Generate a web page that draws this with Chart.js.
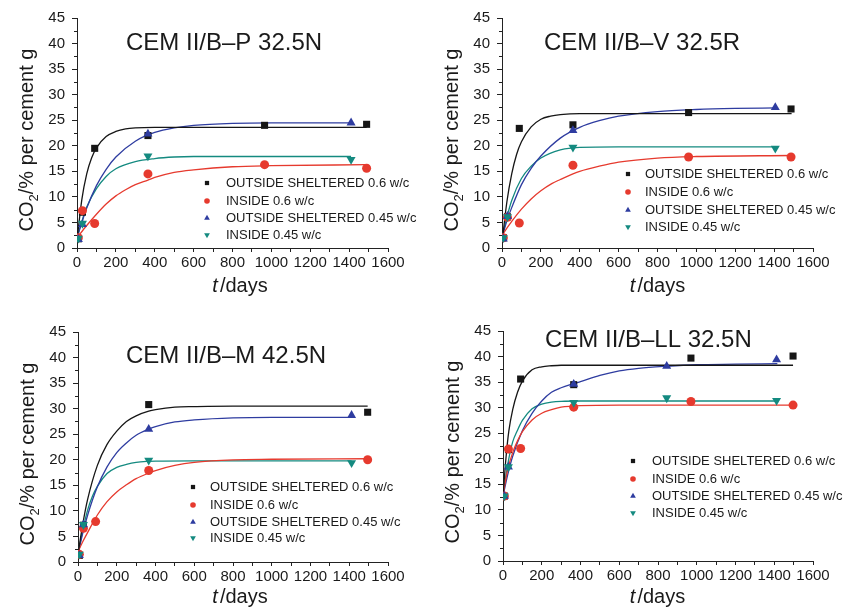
<!DOCTYPE html>
<html><head><meta charset="utf-8">
<script src="https://cdn.jsdelivr.net/npm/chart.js@4.4.1/dist/chart.umd.min.js"></script>
<style>
html,body{margin:0;padding:0;background:#fff;}
#wrap{position:relative;width:856px;height:611px;overflow:hidden;background:#fff;}
canvas{position:absolute;}
</style></head><body>
<div id="wrap">
<canvas id="c1" width="428" height="305" style="left:0px;top:0px;width:428px;height:305px"></canvas>
<canvas id="c2" width="428" height="305" style="left:428px;top:0px;width:428px;height:305px"></canvas>
<canvas id="c3" width="428" height="306" style="left:0px;top:305px;width:428px;height:306px"></canvas>
<canvas id="c4" width="428" height="306" style="left:428px;top:305px;width:428px;height:306px"></canvas>
</div>
<script>
// ---------- text ----------
const panelTitles = ['CEM II/B\u2013P 32.5N', 'CEM II/B\u2013V 32.5R', 'CEM II/B\u2013M 42.5N', 'CEM II/B\u2013LL 32.5N'];
const seriesLabels = ['OUTSIDE SHELTERED 0.6 w/c', 'INSIDE 0.6 w/c', 'OUTSIDE SHELTERED 0.45 w/c', 'INSIDE 0.45 w/c'];
const xTickLabels = [0, 200, 400, 600, 800, 1000, 1200, 1400, 1600];
const yTickLabels = [0, 5, 10, 15, 20, 25, 30, 35, 40, 45];

// ---------- measured points [days, CO2 %] ----------
// CEM II/B-P 32.5N
const pP_os06  = [[7,1.8],[28,7.0],[91,19.5],[365,22.0],[965,24.0],[1490,24.2]];
const pP_in06  = [[7,2.0],[28,7.3],[91,4.8],[365,14.5],[965,16.3],[1490,15.6]];
const pP_os045 = [[7,1.7],[28,4.6],[365,22.3],[1410,24.5]];
const pP_in045 = [[7,1.9],[28,4.8],[365,18.0],[1410,17.3]];
// CEM II/B-V 32.5R
const pV_os06  = [[7,2.0],[28,6.1],[89,23.4],[365,24.1],[960,26.5],[1487,27.2]];
const pV_in06  = [[7,2.0],[28,6.0],[89,4.9],[365,16.2],[960,17.8],[1487,17.8]];
const pV_os045 = [[7,1.8],[28,6.2],[365,23.0],[1406,27.5]];
const pV_in045 = [[7,2.0],[28,6.1],[365,19.7],[1406,19.5]];
// CEM II/B-M 42.5N
const pM_os06  = [[7,1.3],[28,7.2],[365,30.8],[1495,29.3]];
const pM_in06  = [[7,1.5],[28,6.6],[91,7.9],[365,17.9],[1495,20.0]];
const pM_os045 = [[7,1.3],[28,7.3],[365,26.0],[1412,28.7]];
const pM_in045 = [[7,1.5],[28,7.3],[365,19.9],[1412,19.4]];
// CEM II/B-LL 32.5N
const pL_os06  = [[7,12.7],[28,21.8],[91,35.6],[365,34.5],[970,39.7],[1497,40.1]];
const pL_in06  = [[7,12.7],[28,21.9],[91,22.0],[365,30.1],[970,31.2],[1497,30.5]];
const pL_os045 = [[7,12.7],[28,18.4],[365,34.6],[845,38.1],[1412,39.4]];
const pL_in045 = [[7,12.7],[28,18.4],[365,31.0],[845,31.9],[1412,31.4]];

// ---------- fitted curves [days, CO2 %] ----------
const fP_os06  = [[0,1.5],[25,9.5],[50,14.5],[75,17.6],[100,19.6],[150,21.8],[200,22.8],[250,23.3],[300,23.5],[400,23.6],[1490,23.6]];
const fP_in06  = [[0,2.0],[50,4.4],[100,6.6],[150,8.6],[200,10.2],[250,11.4],[300,12.4],[365,13.3],[400,13.8],[500,14.8],[600,15.3],[800,15.9],[1000,16.1],[1490,16.3]];
const fP_os045 = [[0,2.0],[25,5.0],[50,7.8],[100,12.2],[150,15.4],[200,17.8],[300,20.9],[400,22.6],[500,23.5],[600,24.0],[800,24.4],[1000,24.5],[1410,24.5]];
const fP_in045 = [[0,2.0],[25,5.2],[50,8.0],[100,11.6],[150,14.0],[200,15.5],[300,16.9],[400,17.5],[500,17.8],[600,17.9],[1410,17.9]];

const fV_os06  = [[0,1.0],[25,9.0],[50,14.5],[75,18.3],[100,20.8],[150,23.7],[200,25.2],[250,25.8],[300,26.1],[400,26.3],[1490,26.3]];
const fV_in06  = [[0,2.5],[50,5.2],[100,7.6],[150,9.6],[200,11.2],[256,12.6],[300,13.4],[365,14.5],[400,15.0],[500,16.0],[600,16.8],[800,17.6],[1000,17.9],[1490,18.1]];
const fV_os045 = [[0,2.0],[25,5.3],[50,7.9],[100,12.4],[150,15.6],[200,18.0],[300,21.5],[400,23.6],[500,24.9],[600,25.8],[800,26.7],[1000,27.1],[1200,27.3],[1410,27.4]];
const fV_in045 = [[0,2.0],[25,6.0],[50,9.3],[100,13.6],[150,16.0],[200,17.6],[300,19.2],[365,19.6],[400,19.7],[600,19.8],[1410,19.8]];

const fM_os06  = [[0,1.5],[25,7.5],[50,12.3],[100,18.9],[150,23.0],[200,25.6],[250,27.5],[300,28.6],[365,29.5],[400,29.8],[500,30.3],[600,30.4],[800,30.5],[1495,30.5]];
const fM_in06  = [[0,2.0],[25,4.0],[50,5.8],[100,9.2],[150,11.8],[200,13.7],[250,15.1],[300,16.3],[365,17.4],[400,17.9],[500,18.9],[600,19.5],[800,20.0],[1000,20.1],[1495,20.2]];
const fM_os045 = [[0,1.5],[25,5.7],[50,9.2],[100,14.7],[150,18.6],[200,21.4],[250,23.3],[300,24.8],[365,26.0],[400,26.5],[500,27.4],[600,27.8],[800,28.2],[1000,28.3],[1412,28.3]];
const fM_in045 = [[0,1.5],[25,6.3],[50,10.2],[75,12.9],[100,14.8],[150,17.3],[200,18.5],[250,19.1],[300,19.5],[365,19.7],[400,19.75],[600,19.8],[1412,19.8]];

const fL_os06  = [[0,12.6],[15,20.0],[30,25.4],[50,29.6],[75,33.0],[100,35.2],[150,37.4],[200,38.0],[250,38.2],[300,38.3],[1497,38.3]];
const fL_in06  = [[0,13.0],[25,18.0],[50,21.2],[75,23.5],[100,25.3],[150,27.6],[200,28.9],[250,29.6],[300,30.1],[365,30.3],[400,30.4],[600,30.5],[1497,30.5]];
const fL_os045 = [[0,12.7],[25,17.0],[50,20.5],[100,25.5],[150,28.9],[200,31.3],[250,33.0],[300,33.9],[365,34.7],[400,35.1],[500,36.3],[600,37.2],[700,37.7],[843,38.1],[1000,38.4],[1200,38.5],[1416,38.6]];
const fL_in045 = [[0,12.7],[25,19.0],[50,23.3],[75,25.6],[100,27.5],[150,29.8],[200,30.7],[250,31.1],[300,31.25],[400,31.3],[1416,31.3]];

// ---------- styles ----------
const FONT = '"Liberation Sans", Arial, Helvetica, sans-serif';
const TEXT = '#1a1a1a';
const AXIS = '#222222';
const seriesColors = ['#161616', '#e63a2e', '#2e3ca0', '#148a80'];
const pointStyles = ['rect', 'circle', 'triangle', 'triangle'];
const pointRot = [0, 0, 0, 180];
const pointRad = [5, 4.5, 5.2, 5.2];

const panels = [
  { id: 'c1', W: 428, H: 305, area: { l: 77, r: 388, t: 18, b: 248 },
    pts: [pP_os06, pP_in06, pP_os045, pP_in045], fits: [fP_os06, fP_in06, fP_os045, fP_in045],
    title: { x: 126, y: 50 }, legend: { mx: 207, tx: 226, rows: [183, 201, 218, 235] },
    xTitle: { cx: 240, y: 292 }, yTitle: { x: 33, cy: 140 } },
  { id: 'c2', W: 428, H: 305, area: { l: 74, r: 385, t: 18, b: 248 },
    pts: [pV_os06, pV_in06, pV_os045, pV_in045], fits: [fV_os06, fV_in06, fV_os045, fV_in045],
    title: { x: 116, y: 50 }, legend: { mx: 200, tx: 217, rows: [174, 192, 210, 227] },
    xTitle: { cx: 229.5, y: 292 }, yTitle: { x: 30, cy: 140 } },
  { id: 'c3', W: 428, H: 306, area: { l: 78, r: 388, t: 27, b: 257 },
    pts: [pM_os06, pM_in06, pM_os045, pM_in045], fits: [fM_os06, fM_in06, fM_os045, fM_in045],
    title: { x: 126, y: 58 }, legend: { mx: 193, tx: 210, rows: [182, 200, 217, 233] },
    xTitle: { cx: 240, y: 298 }, yTitle: { x: 34, cy: 149 } },
  { id: 'c4', W: 428, H: 306, area: { l: 75, r: 385, t: 26, b: 256 },
    pts: [pL_os06, pL_in06, pL_os045, pL_in045], fits: [fL_os06, fL_in06, fL_os045, fL_in045],
    title: { x: 117, y: 42 }, legend: { mx: 205, tx: 224, rows: [156, 174, 191, 208] },
    xTitle: { cx: 229.5, y: 298 }, yTitle: { x: 31, cy: 147 } }
];

function drawMarker(ctx, style, rot, r, x, y, color) {
  ctx.save();
  ctx.fillStyle = color;
  ctx.beginPath();
  if (style === 'rect') {
    ctx.rect(x - r * Math.SQRT1_2, y - r * Math.SQRT1_2, 2 * r * Math.SQRT1_2, 2 * r * Math.SQRT1_2);
  } else if (style === 'circle') {
    ctx.arc(x, y, r, 0, Math.PI * 2);
  } else {
    const a = rot * Math.PI / 180;
    for (let k = 0; k < 3; k++) {
      const ang = a + k * 2 * Math.PI / 3;
      const px = x + Math.sin(ang) * r, py = y - Math.cos(ang) * r;
      if (k === 0) ctx.moveTo(px, py); else ctx.lineTo(px, py);
    }
    ctx.closePath();
  }
  ctx.fill();
  ctx.restore();
}

const decoPlugin = {
  id: 'deco',
  afterDraw(chart) {
    const p = chart.options.plugins.deco.panel;
    const idx = chart.options.plugins.deco.index;
    const ctx = chart.ctx;
    const ys = chart.scales.y;
    ctx.save();
    // minor y ticks
    ctx.strokeStyle = AXIS; ctx.lineWidth = 1;
    for (let i = 0; i < yTickLabels.length - 1; i++) {
      const v = (yTickLabels[i] + yTickLabels[i + 1]) / 2;
      const py = Math.round(ys.getPixelForValue(v)) + 0.5;
      ctx.beginPath(); ctx.moveTo(ys.right - 3, py); ctx.lineTo(ys.right, py); ctx.stroke();
    }
    // panel title
    ctx.fillStyle = TEXT;
    ctx.textBaseline = 'alphabetic'; ctx.textAlign = 'left';
    ctx.font = '24px ' + FONT;
    ctx.fillText(panelTitles[idx], p.title.x, p.title.y);
    // legend
    ctx.font = '13px ' + FONT;
    ctx.textBaseline = 'middle';
    const legR = [3, 2.8, 3.3, 3.3];
    for (let s = 0; s < 4; s++) {
      const ry = p.legend.rows[s];
      drawMarker(ctx, pointStyles[s], pointRot[s], legR[s], p.legend.mx, ry, seriesColors[s]);
      ctx.fillStyle = TEXT;
      ctx.fillText(seriesLabels[s], p.legend.tx, ry + 0.5);
    }
    // x title: italic t + /days
    ctx.textBaseline = 'alphabetic';
    ctx.font = 'italic 20px ' + FONT;
    const wt = ctx.measureText('t').width;
    ctx.font = '20px ' + FONT;
    const wd = ctx.measureText('/days').width;
    const gap = 2;
    let sx = p.xTitle.cx - (wt + gap + wd) / 2;
    ctx.font = 'italic 20px ' + FONT;
    ctx.fillText('t', sx, p.xTitle.y);
    ctx.font = '20px ' + FONT;
    ctx.fillText('/days', sx + wt + gap, p.xTitle.y);
    // y title: CO2/% per cement g (rotated)
    ctx.save();
    ctx.translate(p.yTitle.x, p.yTitle.cy);
    ctx.rotate(-Math.PI / 2);
    ctx.font = '20px ' + FONT;
    const w1 = ctx.measureText('CO').width;
    const w3 = ctx.measureText('/% per cement g').width;
    ctx.font = '13px ' + FONT;
    const w2 = ctx.measureText('2').width;
    let tx = -(w1 + w2 + w3) / 2;
    ctx.font = '20px ' + FONT;
    ctx.fillText('CO', tx, 0);
    ctx.font = '13px ' + FONT;
    ctx.fillText('2', tx + w1, 5);
    ctx.font = '20px ' + FONT;
    ctx.fillText('/% per cement g', tx + w1 + w2, 0);
    ctx.restore();
    ctx.restore();
  }
};

const toXY = arr => arr.map(d => ({ x: d[0], y: d[1] }));

panels.forEach((p, idx) => {
  const datasets = [];
  for (let s = 0; s < 4; s++) {
    datasets.push({
      type: 'scatter', label: seriesLabels[s], data: toXY(p.pts[s]),
      showLine: false, pointStyle: pointStyles[s], rotation: pointRot[s], radius: pointRad[s],
      pointRadius: pointRad[s], pointBackgroundColor: seriesColors[s], pointBorderColor: seriesColors[s],
      pointBorderWidth: 0, backgroundColor: seriesColors[s], borderColor: seriesColors[s], order: 4 - s
    });
  }
  for (let s = 0; s < 4; s++) {
    datasets.push({
      type: 'line', label: seriesLabels[s] + ' fit', data: toXY(p.fits[s]),
      borderColor: seriesColors[s], borderWidth: 1.3, pointRadius: 0, fill: false,
      cubicInterpolationMode: 'monotone', order: 10
    });
  }
  new Chart(document.getElementById(p.id), {
    data: { datasets },
    plugins: [decoPlugin],
    options: {
      responsive: false, animation: false, devicePixelRatio: 1,
      layout: { padding: { left: 0, top: p.area.t, right: p.W - p.area.r, bottom: 0 } },
      plugins: { legend: { display: false }, tooltip: { enabled: false }, title: { display: false },
                 deco: { panel: p, index: idx } },
      scales: {
        x: {
          type: 'linear', min: 0, max: 1600,
          afterBuildTicks: sc => {
            const t = [];
            xTickLabels.forEach((v, i) => {
              t.push({ value: v });
              if (i < xTickLabels.length - 1) t.push({ value: (v + xTickLabels[i + 1]) / 2 });
            });
            sc.ticks = t;
          },
          ticks: { autoSkip: false, maxRotation: 0, padding: 2, color: TEXT, font: { size: 15, family: FONT },
                   callback: v => xTickLabels.includes(v) ? String(v) : '' },
          grid: { drawOnChartArea: false, drawTicks: true, tickLength: 4, color: AXIS },
          border: { display: true, color: AXIS, width: 1 },
          afterFit: sc => { sc.height = p.H - p.area.b; sc.paddingLeft = 0; sc.paddingRight = 0; }
        },
        y: {
          type: 'linear', min: 0, max: 45,
          afterBuildTicks: sc => { sc.ticks = yTickLabels.map(v => ({ value: v })); },
          ticks: { padding: 7, color: TEXT, font: { size: 15, family: FONT } },
          grid: { drawOnChartArea: false, drawTicks: true, tickLength: 5, color: AXIS },
          border: { display: true, color: AXIS, width: 1 },
          afterFit: sc => { sc.width = p.area.l; sc.paddingTop = 0; sc.paddingBottom = 0; }
        }
      }
    }
  });
});
</script>
</body></html>
